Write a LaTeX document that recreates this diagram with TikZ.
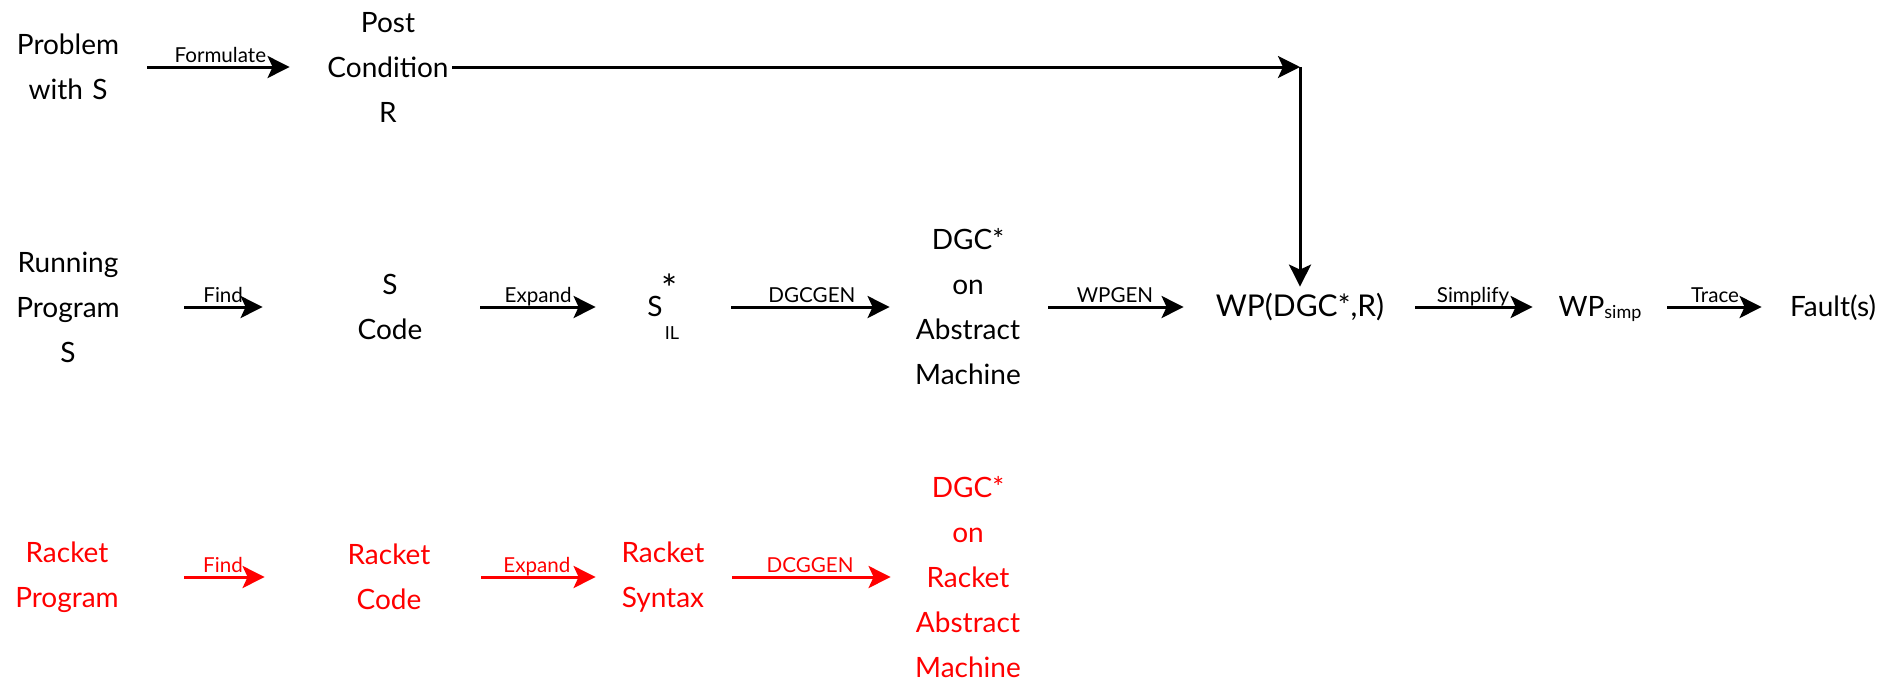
\documentclass[tikz,border=0pt]{standalone}
\usepackage{fontspec}
\setmainfont{Lato}
\usetikzlibrary{arrows.meta}
\begin{document}
\begin{tikzpicture}[x=0.5pt, y=-0.5pt,
  txt/.style={inner sep=0pt, align=center, text width=64pt, font=\fontsize{14}{22.5}\selectfont},
  one/.style={inner sep=0pt, align=center, text height=12pt, text depth=3pt, font=\fontsize{14}{22.5}\selectfont},
  lbl/.style={anchor=base, yshift=2.5pt, inner sep=0pt, font=\fontsize{10.3}{12}\selectfont},
  arr/.style={line width=1.5pt, -{Stealth[length=11pt, width=11pt, inset=2.5pt]}},
  racket/.style={red, text=red}
]
\useasboundingbox (0,0) rectangle (1902,681);

% top row: the problem and its postcondition
\node[txt] (prob) at (68,67) {Problem\\with S};
\node[txt] (post) at (388,67) {Post\\Condition\\R};
\coordinate (turn) at (1300,67);

% middle row: the generic pipeline
\node[txt] (run) at (68,307) {Running\\Program\\S};
\node[txt] (scode) at (390,307) {S\\Code};
\node[one, text width=10pt] (sil) at (655,307) {S};
\node[inner sep=0pt, font=\fontsize{19}{19}\selectfont] (silstar) at (670,288) {*};
\node[inner sep=0pt, font=\fontsize{9}{9}\selectfont] (silsub) at (672,333) {IL};
\node[txt] (dgc) at (968,307) {DGC*\\on\\Abstract\\Machine};
\node[one, text width=90pt, font=\fontsize{15}{22.5}\selectfont] (wp) at (1300,307) {WP(DGC*,R)};
\node[one, text width=45pt] (wps) at (1600,307) {WP\raisebox{-1pt}{\fontsize{9}{9}\selectfont simp}};
\node[one, text width=46pt] (fault) at (1833,307) {Fault(s)};

% bottom row: the Racket instance
\node[txt, racket] (rprog) at (67,577) {Racket\\Program};
\node[txt, racket] (rcode) at (389,577) {Racket\\Code};
\node[txt, racket] (rsyn) at (663,577) {Racket\\Syntax};
\node[txt, racket] (rdgc) at (968,577) {DGC*\\on\\Racket\\Abstract\\Machine};

% connectors, top row
\draw[arr, shorten <=7.5pt, shorten >=17pt] (prob) -- node[lbl, pos=0.46] {Formulate} (post);
\draw[arr] (post) -- (turn);
\draw[arr, shorten >=2.5pt] (turn) -- (wp);

% connectors, middle row
\draw[arr, shorten <=26pt, shorten >=31.5pt] (run) -- node[lbl, pos=0.47] {Find} (scode);
\draw[arr, shorten <=13pt, shorten >=24.5pt] (scode) -- node[lbl, pos=0.44] {Expand} (sil);
\draw[arr, shorten <=33pt, shorten >=7pt] (sil) -- node[lbl, pos=0.615] {DGCGEN} (dgc);
\draw[arr, shorten <=8pt, shorten >=13pt] (dgc) -- node[lbl, pos=0.466] {WPGEN} (wp);
\draw[arr, shorten <=12.5pt, shorten >=11pt] (wp) -- node[lbl, pos=0.503] {Simplify} (wps);
\draw[arr, shorten <=11pt, shorten >=12.5pt] (wps) -- node[lbl, pos=0.493] {Trace} (fault);

% connectors, bottom row
\draw[arr, racket, shorten <=26.5pt, shorten >=30pt] (rprog) -- node[lbl, pos=0.474] {Find} (rcode);
\draw[arr, racket, shorten <=14pt, shorten >=1.5pt] (rcode) -- node[lbl, pos=0.575] {Expand} (rsyn);
\draw[arr, racket, shorten <=2.5pt, shorten >=6.5pt] (rsyn) -- node[lbl, pos=0.469] {DCGGEN} (rdgc);
\end{tikzpicture}
\end{document}
